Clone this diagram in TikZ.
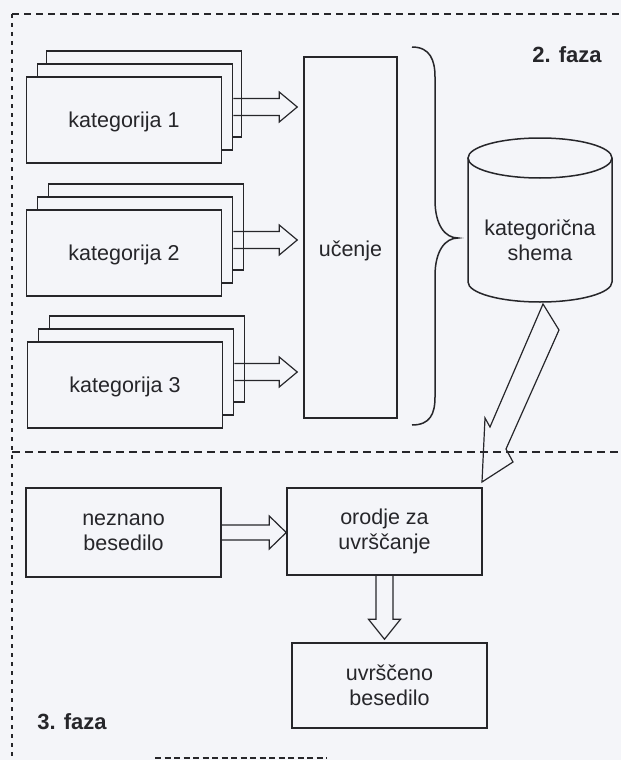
\documentclass[tikz,border=0pt]{standalone}
\usepackage{fontspec}
\setmainfont{Liberation Sans}
\usetikzlibrary{calc}
\definecolor{bg}{RGB}{244,245,249}
\definecolor{ink}{RGB}{38,38,42}
\newcommand{\lbl}{\fontsize{21.5}{25}\selectfont}
\newcommand{\phasefont}{\fontsize{22}{25}\selectfont\bfseries}
\newcommand{\fatright}[5]{%
  \draw[fat] let \p1=(#1), \p2=(#2) in
    (\x1,\y1+#3) -- (\x2-#5,\y1+#3) -- (\x2-#5,\y1+#4) -- (\x2,\y1)
    -- (\x2-#5,\y1-#4) -- (\x2-#5,\y1-#3) -- (\x1,\y1-#3);}
\newcommand{\fatdown}[5]{%
  \draw[fat] let \p1=(#1), \p2=(#2) in
    (\x1-#3,\y1) -- (\x1-#3,\y2+#5) -- (\x1-#4,\y2+#5) -- (\x1,\y2)
    -- (\x1+#4,\y2+#5) -- (\x1+#3,\y2+#5) -- (\x1+#3,\y1);}
\tikzset{
  card/.style={draw=ink, fill=bg, line width=1.5pt, minimum width=195pt,
    minimum height=86pt, inner sep=0pt, text=ink, font=\lbl,
    text height=15.5pt, text depth=0pt},
  box/.style={draw=ink, fill=bg, line width=1.5pt, minimum width=195pt,
    inner sep=0pt, align=center, text=ink, font=\lbl},
  txt/.style={text=ink, font=\lbl, inner sep=0pt, align=center},
  fat/.style={draw=ink, line width=1.2pt, line join=miter},
  frame/.style={draw=ink, line width=1.3pt},
  outline/.style={draw=ink, line width=1.5pt},
  phase/.style={font=\phasefont, text=ink, inner sep=0pt},
}
\begin{document}
\begin{tikzpicture}[x=1pt, y=-1pt]
\fill[bg] (0,0) rectangle (621,760);
\useasboundingbox (0,0) rectangle (621,760);

% dashed frame
\draw[frame, dash pattern=on 7pt off 5pt] (12,14) -- (621,14);
\draw[frame, dash pattern=on 4pt off 5pt] (12,14) -- (12,760);
\draw[frame, dash pattern=on 8pt off 5pt] (12,452) -- (621,452);
\draw[draw=ink, line width=1.8pt, dash pattern=on 6pt off 3.5pt] (155,758) -- (327,758);

% phase labels
\node[phase] (faza2) at (567,55) {2. faza};
\node[phase] (faza3) at (72,722) {3. faza};

% category stacks
\node[card] (b1) at (144,94) {};
\node[card] (m1) at (135,107) {};
\node[card] (f1) at (124,120) {kategorija 1};
\node[card] (b2) at (146,227) {};
\node[card] (m2) at (135,240) {};
\node[card] (f2) at (124,253) {kategorija 2};
\node[card] (b3) at (147,359) {};
\node[card] (m3) at (136,372) {};
\node[card] (f3) at (125,385) {kategorija 3};

% learning box
\node[box, minimum width=93pt, minimum height=361pt] (learn) at (350.5,237.5) {};
\node[txt, anchor=base] (learntext) at (350.5,256) {učenje};

% arrows into learning
\fatright{m1.east}{$(m1.east -| learn.west)+(-6,0)$}{8.5pt}{15pt}{18pt}
\fatright{m2.east}{$(m2.east -| learn.west)+(-6,0)$}{8.5pt}{15pt}{18pt}
\fatright{m3.east}{$(m3.east -| learn.west)+(-6,0)$}{8.5pt}{15pt}{18pt}

% brace
\draw[outline] (412,47) .. controls (430,47) and (435,60) .. (435,77)
  -- (435,200) .. controls (435,225) and (445,238) .. (458,238)
  .. controls (445,238) and (435,251) .. (435,276)
  -- (435,397) .. controls (435,414) and (430,425) .. (412,425);

% cylinder (category schema)
\draw[outline] (468,158) -- (468,282)
  arc[start angle=180, end angle=360, x radius=72pt, y radius=20pt] -- (612,158);
\draw[outline] (540,158) ellipse [x radius=72pt, y radius=20pt];
\node[txt] (schema) at (540,240) {kategorična\\shema};
\coordinate (cylbot) at (543,304);

% phase 3 boxes
\node[box, minimum height=89pt] (unknown) at (123.5,532.5) {neznano\\besedilo};
\node[box, minimum height=87pt] (tool) at (384.5,531.5) {orodje za\\uvrščanje};
\node[box, minimum height=85pt] (result) at (389.5,685.5) {uvrščeno\\besedilo};

% lightning arrow from schema to tool
\coordinate (boltip) at (482,482);
\draw[fat] (cylbot) -- (559,330) -- (506,449) -- (513,462) -- (boltip)
  -- (485,418) -- (490,427) -- cycle;

% arrows of phase 3
\fatright{unknown.east}{unknown.east -| tool.west}{7.5pt}{16.5pt}{17pt}
\fatdown{tool.south}{$(tool.south |- result.north)+(0,-3)$}{8.5pt}{16pt}{20pt}
\end{tikzpicture}
\end{document}
